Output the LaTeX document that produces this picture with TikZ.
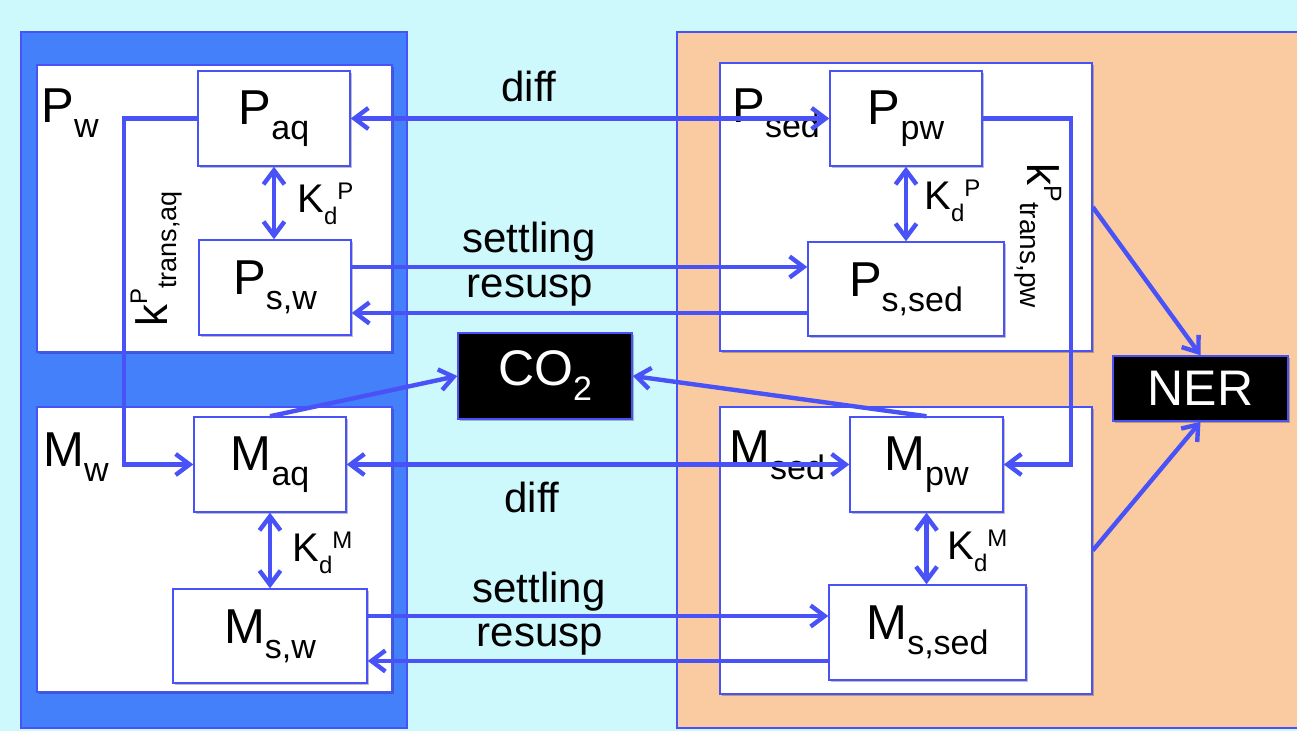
\documentclass[tikz,border=0pt]{standalone}
\usepackage{fontspec}
\setmainfont{Liberation Sans}
\usetikzlibrary{arrows.meta,shadows}
\definecolor{bgc}{RGB}{205,248,252}
\definecolor{wblue}{RGB}{68,128,250}
\definecolor{lblue}{RGB}{72,82,246}
\definecolor{sedc}{RGB}{250,203,160}
\newcommand\nsub[1]{\raisebox{-7.5pt}{\fontsize{17}{17}\selectfont #1}}
\newcommand\Kd[1]{K\raisebox{-6pt}{\fontsize{12}{12}\selectfont d}\raisebox{6.5pt}{\fontsize{12}{12}\selectfont #1}}
\tikzset{
 shd/.style={drop shadow={shadow xshift=0.8pt,shadow yshift=-0.8pt,opacity=0.25,fill=black}},
 cont/.style={draw=lblue,fill=white,line width=0.75pt,inner sep=0pt,shd},
 box/.style={draw=lblue,fill=white,line width=0.75pt,inner sep=0pt,font=\fontsize{24.5}{26}\selectfont,shd},
 sink/.style={draw=lblue,fill=black,text=white,line width=0.75pt,inner sep=0pt,font=\fontsize{25}{26}\selectfont,shd},
 lbl/.style={font=\fontsize{21}{22}\selectfont,inner sep=0pt,anchor=base},
 kd/.style={font=\fontsize{20}{22}\selectfont,inner sep=0pt,anchor=base west},
 clbl/.style={font=\fontsize{24.5}{26}\selectfont,inner sep=0pt,anchor=base west},
 conn/.style={draw=lblue,line width=2.2pt},
 arr/.style={conn,-{Straight Barb[length=7pt,width=10.5pt]}},
 dbl/.style={conn,{Straight Barb[length=7pt,width=10.5pt]}-{Straight Barb[length=7pt,width=10.5pt]}},
}
\begin{document}
\begin{tikzpicture}[x=0.5pt,y=-0.5pt]
\clip (0,0) rectangle (1297,731);
\fill[bgc] (0,0) rectangle (1297,731);
% compartments
\node[draw=lblue,fill=wblue,line width=0.75pt,inner sep=0pt,minimum width=193pt,minimum height=348pt] (water) at (214,380) {};
\node[draw=lblue,fill=sedc,line width=0.75pt,inner sep=0pt,minimum width=316.5pt,minimum height=348pt] (sedim) at (993.5,380) {};
% containers
\node[cont,minimum width=177.5pt,minimum height=143.5pt] (Pw) at (214.5,208.5) {};
\node[cont,minimum width=177.5pt,minimum height=142.5pt] (Mw) at (214.5,549.5) {};
\node[cont,minimum width=186pt,minimum height=144pt] (Psed) at (906,207) {};
\node[cont,minimum width=186pt,minimum height=143.5pt] (Msed) at (906,550.5) {};
% container labels
\node[clbl] (lPw) at (41,123) {P\nsub{w}};
\node[clbl] (lMw) at (43,467) {M\nsub{w}};
\node[clbl] (lPsed) at (732,123) {P\nsub{sed}};
\node[clbl] (lMsed) at (729,465) {M\nsub{sed}};
% species boxes
\node[box,minimum width=76pt,minimum height=47.5pt] (Paq) at (274,118.5) {P\nsub{aq}};
\node[box,minimum width=76pt,minimum height=47.5pt] (Psw) at (275,287.5) {P\nsub{s,w}};
\node[box,minimum width=76pt,minimum height=47.5pt] (Maq) at (270,464.5) {M\nsub{aq}};
\node[box,minimum width=97pt,minimum height=47pt] (Msw) at (270,636) {M\nsub{s,w}};
\node[box,minimum width=76pt,minimum height=47.5pt] (Ppw) at (906,118.5) {P\nsub{pw}};
\node[box,minimum width=98pt,minimum height=47pt] (Pssed) at (906,289) {P\nsub{s,sed}};
\node[box,minimum width=76.5pt,minimum height=47.5pt] (Mpw) at (926.5,464.5) {M\nsub{pw}};
\node[box,minimum width=98.5pt,minimum height=47.5pt] (Mssed) at (927.5,632.5) {M\nsub{s,sed}};
\node[sink,minimum width=87.5pt,minimum height=32.5pt] (NER) at (1200.5,388.5) {NER};
\node[sink,minimum width=87pt,minimum height=43pt] (CO2) at (545,376) {CO\nsub{2}};
% helper coordinates
\coordinate (kl) at (124,0);
\coordinate (kr) at (1071,0);
% connectors
\draw[dbl] (Paq.east) -- (Ppw.west);
\draw[arr,line join=miter] (Paq.west) -- (Paq.west -| kl) -- (Maq.west -| kl) -- (Maq.west);
\draw[dbl] (Paq.south) -- (Paq.south |- Psw.north);
\draw[arr] ([yshift=10.25pt]Psw.east) -- ([yshift=10.25pt]Psw.east -| Pssed.west);
\draw[arr] ([yshift=-12pt]Pssed.west) -- ([yshift=-12pt]Pssed.west -| Psw.east);
\draw[arr,line join=miter] (Ppw.east) -- (Ppw.east -| kr) -- (Mpw.east -| kr) -- (Mpw.east);
\draw[dbl] (Ppw.south) -- (Ppw.south |- Pssed.north);
\draw[arr] (Psed.east) -- (NER.north);
\draw[arr] (Msed.east) -- (NER.south);
\draw[arr] (Maq.north) -- (CO2.west);
\draw[arr] (Mpw.north) -- (CO2.east);
\draw[dbl] (Maq.east) -- (Mpw.west);
\draw[dbl] (Maq.south) -- (Maq.south |- Msw.north);
\draw[arr] ([yshift=10pt]Msw.east) -- ([yshift=10pt]Msw.east -| Mssed.west);
\draw[arr] ([yshift=-14.25pt]Mssed.west) -- ([yshift=-14.25pt]Mssed.west -| Msw.east);
\draw[dbl] (Mpw.south) -- (Mpw.south |- Mssed.north);
% connector labels
\node[lbl] (d1) at (529,102) {diff};
\node[lbl] (s1) at (529,253) {settling};
\node[lbl] (r1) at (530,298) {resusp};
\node[lbl] (d2) at (532,513) {diff};
\node[lbl] (s2) at (539,603) {settling};
\node[lbl] (r2) at (540,647) {resusp};
\node[kd] (kd1) at (297,213) {\Kd{P}};
\node[kd] (kd2) at (924,210) {\Kd{P}};
\node[kd] (kd3) at (292,562) {\Kd{M}};
\node[kd] (kd4) at (947,560) {\Kd{M}};
\node[rotate=90,anchor=base west,inner sep=0pt] (ktl) at (167,327)
  {\fontsize{22}{22}\selectfont k\raisebox{10pt}{\fontsize{12}{12}\selectfont P}\raisebox{-4.5pt}{\fontsize{13.5}{14}\selectfont trans,aq}};
\node[rotate=-90,anchor=base west,inner sep=0pt] (ktr) at (1027,163)
  {\fontsize{22}{22}\selectfont k\raisebox{8.5pt}{\fontsize{12.5}{13}\selectfont P}\raisebox{-3.5pt}{\fontsize{14}{14}\selectfont trans,pw}};
\end{tikzpicture}
\end{document}
